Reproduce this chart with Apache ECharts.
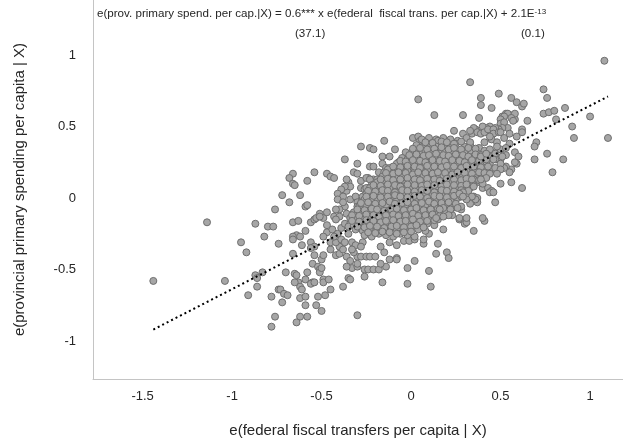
<!DOCTYPE html>
<html>
<head>
<meta charset="utf-8">
<script src="https://cdn.jsdelivr.net/npm/echarts@6/dist/echarts.min.js"></script>
<style>
html,body{margin:0;padding:0;background:#fff;}
#chart{width:623px;height:444px;}
</style>
</head>
<body>
<div id="chart"></div>
<script>
// Tick labels
const xTicks = [-1.5, -1, -0.5, 0, 0.5, 1];
const yTicks = [-1, -0.5, 0, 0.5, 1];

// Fitted line end points
const trendX = [-1.44, 1.10];
const trendY = [-0.92, 0.71];

// Scatter points, [x, y], grouped by region of the picture
const upperLeftPts = [
[0.33,0.81],[0.04,0.69],[0.13,0.58],[0.29,0.58],[-0.15,0.40],[-0.28,0.36],[-0.23,0.35],[-0.21,0.34],[-0.09,0.34],[-0.37,0.27],
[-0.30,0.24],[-0.16,0.29],[-0.12,0.29],[-0.23,0.22],[-0.21,0.22],[-0.16,0.24],[-0.14,0.21],[-0.12,0.21],[-0.08,0.21],[-0.07,0.25],
[-0.02,0.30],[0.01,0.42],[0.04,0.43],[0.05,0.40],[0.09,0.39],[0.24,0.47],[0.29,0.45],[0.34,0.45],[0.36,0.48],
[-0.66,0.17],[-0.68,0.14],[-0.66,0.10],[-0.65,0.09],[-0.54,0.18],[-0.58,0.12],[-0.47,0.17],[-0.45,0.15],[-0.43,0.14],[-0.72,0.02],
[-0.68,-0.03],[-0.62,0.02],[-0.59,-0.06],[-0.58,-0.05],[-0.53,-0.14],[-0.51,-0.13],[-0.47,-0.10],[-0.43,-0.13],[-0.35,0.11],[-0.36,0.05],
[-0.32,0.18],[-0.30,0.17],[-0.40,0.02],[-0.40,-0.01],[-0.37,-0.06],[-0.40,-0.08],
[-0.28,0.12],[-0.24,0.14],[-0.28,0.07],[-0.24,0.07],[-0.21,0.13],[-0.19,0.08],[-0.76,-0.08],
[-0.05,0.24],[-0.18,0.18],[-0.15,0.18],[-0.14,0.15],[-0.10,0.19],[-0.09,0.16],[-0.02,0.22],[-0.01,0.20],[0.01,0.23],[0.02,0.18],[0.05,0.22],[0.08,0.24],
[-0.36,0.13],[-0.34,0.08],[-0.37,0.08],[-0.39,0.06],[-0.41,0.03],[-0.38,0.01],[-0.41,-0.01],[-0.38,-0.03],[-0.34,-0.01],[-0.31,0.01],
[-0.30,-0.03],[-0.27,-0.01],[-0.27,-0.06],[-0.30,-0.06],[-0.26,0.06],[-0.27,0.01],
[-0.25,0.14],[-0.23,0.13],[-0.22,0.09],[-0.25,0.07],[-0.19,0.13],[-0.17,0.09],[-0.15,0.11],[-0.14,0.10],
[-0.42,-0.08],[-0.40,-0.13],[-0.42,-0.15],[-0.36,-0.11],[-0.37,-0.18],[-0.34,-0.18],[-0.32,-0.13],[-0.35,-0.20],
[0.10,0.38],[0.14,0.41]
];

const lowerLeftPts = [
[-1.14,-0.17],[-0.87,-0.18],[-0.80,-0.20],[-0.77,-0.20],[-0.82,-0.27],[-0.74,-0.32],[-0.95,-0.31],[-0.92,-0.38],[-1.44,-0.58],[-1.04,-0.58],
[-0.87,-0.54],[-0.86,-0.56],[-0.83,-0.52],[-0.86,-0.62],[-0.91,-0.68],[-0.78,-0.69],[-0.74,-0.64],[-0.76,-0.83],[-0.78,-0.90],
[-0.66,-0.17],[-0.63,-0.16],[-0.56,-0.17],[-0.54,-0.15],[-0.51,-0.11],[-0.49,-0.14],[-0.64,-0.26],[-0.66,-0.27],[-0.62,-0.27],[-0.66,-0.29],
[-0.59,-0.23],[-0.61,-0.33],[-0.66,-0.39],[-0.56,-0.31],[-0.54,-0.34],[-0.56,-0.35],[-0.70,-0.52],[-0.73,-0.64],[-0.72,-0.73],[-0.71,-0.67],
[-0.69,-0.68],[-0.65,-0.53],[-0.64,-0.54],[-0.63,-0.59],[-0.62,-0.62],[-0.61,-0.64],[-0.65,-0.59],[-0.62,-0.70],[-0.59,-0.69],[-0.59,-0.75],
[-0.62,-0.83],[-0.64,-0.87],[-0.58,-0.83],[-0.53,-0.75],[-0.50,-0.79],[-0.52,-0.69],[-0.48,-0.68],[-0.45,-0.64],[-0.58,-0.52],[-0.59,-0.57],
[-0.55,-0.59],[-0.56,-0.60],[-0.54,-0.59],[-0.49,-0.57],[-0.49,-0.59],[-0.46,-0.57],[-0.55,-0.46],[-0.52,-0.48],[-0.51,-0.50],[-0.51,-0.52],
[-0.50,-0.49],[-0.50,-0.43],[-0.49,-0.40],[-0.54,-0.40],[-0.45,-0.36],[-0.38,-0.62],[-0.35,-0.56],[-0.34,-0.57],[-0.30,-0.82],[-0.42,-0.40],
[-0.40,-0.39],[-0.33,-0.49],[-0.30,-0.48],[-0.26,-0.50],[-0.24,-0.50],[-0.21,-0.50],[-0.18,-0.50],[-0.26,-0.55],[-0.16,-0.59],[-0.02,-0.60],
[0.11,-0.62],[-0.02,-0.49],[0.10,-0.51],[-0.14,-0.48],[-0.17,-0.46],[-0.08,-0.42],[0.02,-0.44],[0.14,-0.39],[0.20,-0.38],[0.21,-0.42],
[0.15,-0.32],[0.18,-0.22],[0.10,-0.25],[0.07,-0.32],[0.07,-0.29],[0.35,-0.23],[0.27,-0.15],[0.30,-0.17],[0.20,-0.12],[0.23,-0.12],
[-0.12,-0.43],[-0.08,-0.43],[-0.04,-0.30],[-0.01,-0.30],[0.02,-0.29],[-0.08,-0.33],[-0.12,-0.31],[-0.15,-0.38],[-0.17,-0.34],
[-0.36,-0.41],[-0.34,-0.44],[-0.30,-0.41],[-0.32,-0.38],[-0.28,-0.41],[-0.25,-0.41],[-0.23,-0.41],[-0.20,-0.41],[-0.30,-0.46],[-0.36,-0.48],
[-0.40,-0.34],[-0.45,-0.31],[-0.42,-0.31],[-0.39,-0.29],[-0.37,-0.31],[-0.33,-0.31],[-0.31,-0.33],[-0.27,-0.31],[-0.28,-0.34],
[-0.47,-0.24],[-0.44,-0.22],[-0.41,-0.25],[-0.47,-0.19],[-0.39,-0.21],[-0.43,-0.27],[-0.49,-0.27],[-0.35,-0.25],[-0.38,-0.36],[-0.33,-0.36]
];

const rightPts = [
[1.08,0.96],[0.74,0.76],[0.76,0.70],[0.39,0.70],[0.39,0.65],[0.49,0.73],[0.56,0.70],[0.59,0.67],[0.62,0.64],[0.63,0.66],
[0.45,0.63],[0.38,0.56],[0.74,0.59],[0.77,0.60],[0.80,0.61],[0.86,0.63],[1.00,0.57],[0.81,0.55],[0.65,0.54],[0.90,0.50],
[0.91,0.42],[1.10,0.42],[0.70,0.39],[0.69,0.36],[0.76,0.31],[0.69,0.27],[0.85,0.27],[0.79,0.18],[0.62,0.07],[0.56,0.11],
[0.50,0.10],[0.47,-0.03],[0.40,0.07],[0.43,0.07],[0.45,0.05],[0.44,0.04],[0.46,0.04],[0.35,0.01],[0.37,0.00],[0.37,-0.03],
[0.29,0.04],[0.27,0.03],[0.56,0.20],[0.59,0.24],[0.58,0.25],[0.58,0.32],[0.60,0.29],[0.51,0.21],[0.50,0.27],[0.47,0.27],
[0.47,0.21],[0.62,0.48],[0.62,0.46],[0.59,0.43],[0.53,0.59],[0.51,0.57],[0.57,0.58],[0.58,0.55],[0.53,0.30],
[0.28,-0.08],[0.27,-0.14],[0.30,-0.18],[0.31,-0.17],[0.41,-0.16],
[0.54,0.59],[0.52,0.57],[0.58,0.59],[0.56,0.56],[0.50,0.55],[0.50,0.52],[0.52,0.53],[0.57,0.54],[0.54,0.49],[0.51,0.49],
[0.49,0.48],[0.47,0.49],[0.44,0.50],[0.42,0.49],[0.40,0.50],[0.35,0.49],[0.33,0.47],[0.37,0.46],[0.39,0.45],[0.41,0.46],
[0.43,0.48],[0.46,0.48],[0.46,0.45],[0.49,0.46],[0.50,0.46],
[0.36,-0.01],[0.34,0.01],[0.33,-0.04],[0.31,-0.01],[0.29,0.01],[0.28,-0.06],[0.26,-0.07],[0.22,-0.08],[0.18,-0.07],[0.16,-0.08],
[0.21,-0.12],[0.18,-0.13],[0.14,-0.14],[0.31,-0.14],[0.40,-0.14],
[0.53,0.22],[0.55,0.18],[0.52,0.21],[0.50,0.24],[0.50,0.20],[0.48,0.17],
[0.44,0.17],[0.42,0.14],[0.40,0.10],[0.39,0.13],[0.34,0.13],[0.35,0.08],
[0.44,0.34],[0.47,0.31],[0.50,0.34],[0.51,0.29],[0.46,0.27],[0.42,0.27],[0.39,0.29],[0.42,0.31],
[0.45,0.41],[0.48,0.39],[0.52,0.42],[0.55,0.38],[0.41,0.39],[0.55,0.45],[0.48,0.36],[0.53,0.35],[0.44,0.43]
];

const corePts = [
[0.06,0.41],[0.10,0.42],[0.15,0.40],[0.18,0.42],[0.22,0.41],[0.26,0.40],[0.31,0.42],
[0.03,0.37],[0.07,0.36],[0.11,0.38],[0.14,0.36],[0.19,0.37],[0.22,0.35],[0.25,0.38],[0.30,0.36],[0.33,0.37],[0.38,0.35],
[-0.03,0.32],[0.01,0.33],[0.05,0.31],[0.08,0.33],[0.12,0.32],[0.16,0.31],[0.19,0.33],[0.23,0.32],[0.27,0.31],[0.30,0.33],[0.34,0.32],[0.37,0.31],[0.41,0.33],[0.45,0.32],
[-0.05,0.28],[-0.02,0.27],[0.02,0.29],[0.06,0.28],[0.09,0.27],[0.13,0.29],[0.17,0.28],[0.20,0.27],[0.24,0.29],[0.28,0.28],[0.31,0.27],[0.35,0.29],[0.38,0.28],[0.43,0.27],[0.47,0.29],
[-0.08,0.24],[-0.04,0.23],[0.00,0.25],[0.04,0.24],[0.07,0.23],[0.11,0.25],[0.15,0.24],[0.18,0.23],[0.22,0.25],[0.26,0.24],[0.29,0.23],[0.33,0.25],[0.37,0.24],[0.40,0.23],[0.44,0.24],
[-0.13,0.20],[-0.09,0.19],[-0.06,0.21],[-0.02,0.19],[0.02,0.20],[0.06,0.21],[0.09,0.19],[0.13,0.20],[0.17,0.21],[0.20,0.19],[0.24,0.20],[0.28,0.21],[0.31,0.19],[0.35,0.20],[0.39,0.21],[0.42,0.19],[0.46,0.20],
[-0.16,0.15],[-0.12,0.16],[-0.08,0.14],[-0.05,0.16],[-0.01,0.15],[0.03,0.14],[0.07,0.16],[0.10,0.15],[0.14,0.14],[0.18,0.16],[0.21,0.15],[0.25,0.14],[0.29,0.16],[0.32,0.15],[0.36,0.14],[0.40,0.16],
[-0.19,0.11],[-0.15,0.10],[-0.11,0.12],[-0.07,0.11],[-0.04,0.10],[0.00,0.12],[0.04,0.11],[0.08,0.10],[0.11,0.12],[0.15,0.11],[0.19,0.10],[0.22,0.12],[0.26,0.11],[0.30,0.10],[0.33,0.12],[0.37,0.11],
[-0.23,0.07],[-0.19,0.06],[-0.15,0.08],[-0.12,0.07],[-0.08,0.06],[-0.04,0.08],[-0.01,0.07],[0.03,0.06],[0.07,0.08],[0.10,0.07],[0.14,0.06],[0.18,0.08],[0.21,0.07],[0.25,0.06],[0.29,0.08],[0.33,0.07],
[-0.25,0.03],[-0.21,0.02],[-0.17,0.04],[-0.14,0.03],[-0.10,0.02],[-0.06,0.04],[-0.03,0.03],[0.01,0.02],[0.05,0.04],[0.08,0.03],[0.12,0.02],[0.16,0.04],[0.19,0.03],[0.23,0.02],[0.27,0.04],[0.31,0.03],
[-0.26,-0.01],[-0.22,-0.02],[-0.19,0.00],[-0.15,-0.01],[-0.11,-0.02],[-0.08,0.00],[-0.04,-0.01],[0.00,-0.02],[0.03,0.00],[0.07,-0.01],[0.11,-0.02],[0.14,0.00],[0.18,-0.01],[0.22,-0.02],[0.26,0.00],
[-0.29,-0.06],[-0.25,-0.05],[-0.21,-0.07],[-0.18,-0.06],[-0.14,-0.05],[-0.10,-0.07],[-0.07,-0.06],[-0.03,-0.05],[0.01,-0.07],[0.04,-0.06],[0.08,-0.05],[0.12,-0.07],[0.16,-0.06],[0.19,-0.05],[0.23,-0.07],
[-0.32,-0.10],[-0.28,-0.11],[-0.24,-0.09],[-0.20,-0.10],[-0.17,-0.11],[-0.13,-0.09],[-0.09,-0.10],[-0.06,-0.11],[-0.02,-0.09],[0.02,-0.10],[0.05,-0.11],[0.09,-0.09],[0.13,-0.10],[0.17,-0.11],[0.21,-0.09],
[-0.34,-0.14],[-0.30,-0.15],[-0.27,-0.13],[-0.23,-0.14],[-0.19,-0.15],[-0.15,-0.13],[-0.12,-0.14],[-0.08,-0.15],[-0.04,-0.13],[-0.01,-0.14],[0.03,-0.15],[0.07,-0.13],[0.11,-0.14],[0.15,-0.15],
[-0.32,-0.19],[-0.28,-0.17],[-0.25,-0.18],[-0.21,-0.19],[-0.17,-0.17],[-0.13,-0.18],[-0.10,-0.19],[-0.06,-0.17],[-0.02,-0.18],[0.01,-0.19],[0.05,-0.17],[0.09,-0.18],[0.13,-0.19],
[-0.31,-0.22],[-0.27,-0.23],[-0.23,-0.21],[-0.19,-0.22],[-0.15,-0.23],[-0.12,-0.21],[-0.08,-0.22],[-0.04,-0.23],[0.00,-0.21],[0.04,-0.22],[0.08,-0.23],
[-0.26,-0.26],[-0.22,-0.27],[-0.18,-0.25],[-0.14,-0.26],[-0.10,-0.27],[-0.06,-0.25],[-0.02,-0.26],[0.02,-0.27]
];

const coreInnerPts = [
[0.08,0.39],[0.12,0.385],[0.17,0.395],[0.20,0.39],[0.24,0.38],[0.28,0.395],[0.33,0.39],
[0.01,0.345],[0.05,0.35],[0.09,0.34],[0.13,0.345],[0.17,0.355],[0.21,0.34],[0.24,0.35],[0.28,0.34],[0.32,0.35],[0.36,0.345],
[-0.01,0.30],[0.03,0.305],[0.07,0.295],[0.10,0.30],[0.14,0.31],[0.18,0.30],[0.21,0.295],[0.25,0.305],[0.29,0.30],[0.32,0.29],[0.36,0.305],[0.39,0.30],[0.43,0.295],
[-0.06,0.26],[-0.03,0.255],[0.01,0.265],[0.05,0.26],[0.08,0.25],[0.12,0.265],[0.16,0.26],[0.19,0.255],[0.23,0.265],[0.27,0.26],[0.30,0.25],[0.34,0.265],[0.38,0.26],[0.42,0.255],
[-0.10,0.22],[-0.06,0.215],[-0.02,0.225],[0.02,0.22],[0.05,0.21],[0.09,0.225],[0.13,0.22],[0.17,0.215],[0.20,0.225],[0.24,0.22],[0.28,0.21],[0.31,0.225],[0.35,0.22],[0.39,0.215],[0.43,0.22],
[-0.14,0.175],[-0.10,0.17],[-0.07,0.18],[-0.03,0.175],[0.01,0.165],[0.04,0.18],[0.08,0.175],[0.12,0.17],[0.15,0.18],[0.19,0.175],[0.23,0.165],[0.26,0.18],[0.30,0.175],[0.34,0.17],[0.38,0.18],[0.41,0.175],
[-0.17,0.13],[-0.13,0.135],[-0.10,0.125],[-0.06,0.13],[-0.02,0.14],[0.02,0.13],[0.05,0.125],[0.09,0.135],[0.13,0.13],[0.16,0.12],[0.20,0.135],[0.24,0.13],[0.28,0.125],[0.31,0.135],[0.35,0.13],[0.38,0.125],
[-0.21,0.09],[-0.17,0.085],[-0.13,0.095],[-0.09,0.09],[-0.06,0.08],[-0.02,0.095],[0.02,0.09],[0.06,0.085],[0.09,0.095],[0.13,0.09],[0.17,0.08],[0.20,0.095],[0.24,0.09],[0.28,0.085],[0.31,0.095],[0.35,0.09],
[-0.24,0.05],[-0.20,0.045],[-0.16,0.055],[-0.13,0.05],[-0.09,0.04],[-0.05,0.055],[-0.02,0.05],[0.02,0.045],[0.06,0.055],[0.09,0.05],[0.13,0.04],[0.17,0.055],[0.20,0.05],[0.24,0.045],[0.28,0.055],[0.32,0.05],
[-0.25,0.01],[-0.21,0.015],[-0.17,0.005],[-0.13,0.01],[-0.09,0.02],[-0.06,0.01],[-0.02,0.005],[0.02,0.015],[0.05,0.01],[0.09,0.00],[0.13,0.015],[0.16,0.01],[0.20,0.005],[0.24,0.015],[0.28,0.01],
[-0.28,-0.035],[-0.24,-0.03],[-0.20,-0.04],[-0.16,-0.035],[-0.12,-0.025],[-0.09,-0.04],[-0.05,-0.035],[-0.02,-0.03],[0.02,-0.04],[0.06,-0.035],[0.10,-0.025],[0.13,-0.04],[0.17,-0.035],[0.21,-0.03],[0.25,-0.04],
[-0.30,-0.08],[-0.26,-0.085],[-0.22,-0.075],[-0.19,-0.08],[-0.15,-0.09],[-0.11,-0.08],[-0.08,-0.075],[-0.04,-0.085],[0.00,-0.08],[0.03,-0.07],[0.07,-0.085],[0.11,-0.08],[0.15,-0.075],[0.19,-0.085],
[-0.33,-0.12],[-0.29,-0.125],[-0.25,-0.115],[-0.21,-0.12],[-0.18,-0.13],[-0.14,-0.12],[-0.10,-0.115],[-0.07,-0.125],[-0.03,-0.12],[0.01,-0.11],[0.04,-0.125],[0.08,-0.12],[0.12,-0.115],[0.16,-0.125],
[-0.33,-0.16],[-0.29,-0.165],[-0.25,-0.155],[-0.21,-0.16],[-0.17,-0.17],[-0.14,-0.16],[-0.10,-0.155],[-0.06,-0.165],[-0.03,-0.16],[0.01,-0.15],[0.05,-0.165],[0.09,-0.16],[0.13,-0.155],
[-0.30,-0.20],[-0.26,-0.205],[-0.23,-0.195],[-0.19,-0.20],[-0.15,-0.21],[-0.11,-0.20],[-0.08,-0.195],[-0.04,-0.205],[0.00,-0.20],[0.03,-0.19],[0.07,-0.205],
[-0.24,-0.24],[-0.20,-0.245],[-0.16,-0.235],[-0.12,-0.24],[-0.08,-0.25],[-0.04,-0.24],[0.00,-0.235]
];

const allPts = [].concat(lowerLeftPts, upperLeftPts, corePts, coreInnerPts, rightPts);
const trendData = trendX.map((x, i) => [x, trendY[i]]);

const FONT = '"Liberation Sans", Arial, sans-serif';
const chart = echarts.init(document.getElementById('chart'), null, {renderer: 'canvas'});
chart.setOption({
  animation: false,
  backgroundColor: '#ffffff',
  grid: {left: 93, top: 0, width: 530, height: 379, containLabel: false},
  xAxis: {
    type: 'value', min: -1.777, max: 1.184,
    axisLine: {show: true, onZero: false, lineStyle: {color: '#c4c4c4', width: 1}},
    axisTick: {show: false},
    splitLine: {show: false},
    axisLabel: {customValues: xTicks, color: '#262626', fontFamily: FONT, fontSize: 13, margin: 11,
      formatter: v => String(v)},
    name: 'e(federal fiscal transfers per capita | X)',
    nameLocation: 'middle', nameGap: 44,
    nameTextStyle: {color: '#262626', fontFamily: FONT, fontSize: 15}
  },
  yAxis: {
    type: 'value', min: -1.266, max: 1.385,
    axisLine: {show: true, onZero: false, lineStyle: {color: '#c4c4c4', width: 1}},
    axisTick: {show: false},
    splitLine: {show: false},
    axisLabel: {customValues: yTicks, color: '#262626', fontFamily: FONT, fontSize: 13, margin: 17,
      formatter: v => String(v)},
    name: 'e(provincial primary spending per capita | X)',
    nameLocation: 'middle', nameGap: 66, nameRotate: 90,
    nameTextStyle: {color: '#262626', fontFamily: FONT, fontSize: 15}
  },
  series: [
    {
      type: 'scatter', data: allPts, symbol: 'circle', symbolSize: 7,
      itemStyle: {color: '#a6a6a6', borderColor: '#6f6f6f', borderWidth: 1, opacity: 1},
      z: 2
    },
    {
      type: 'line', data: trendData, symbol: 'none',
      lineStyle: {color: '#000000', width: 2, type: [2, 3]},
      z: 5
    }
  ],
  graphic: [
    {type: 'text', left: 97, top: 8, z: 10,
     style: {text: 'e(prov. primary spend. per cap.|X) = 0.6*** x e(federal  fiscal trans. per cap.|X) + 2.1E{sup|-13}',
       fill: '#262626', font: '11.6px "Liberation Sans", Arial, sans-serif',
       rich: {sup: {fontSize: 8, verticalAlign: 'top', fill: '#262626'}}}},
    {type: 'text', left: 295, top: 28, z: 10,
     style: {text: '(37.1)', fill: '#262626', font: '11.6px "Liberation Sans", Arial, sans-serif'}},
    {type: 'text', left: 521, top: 28, z: 10,
     style: {text: '(0.1)', fill: '#262626', font: '11.6px "Liberation Sans", Arial, sans-serif'}}
  ]
});
</script>
</body>
</html>
